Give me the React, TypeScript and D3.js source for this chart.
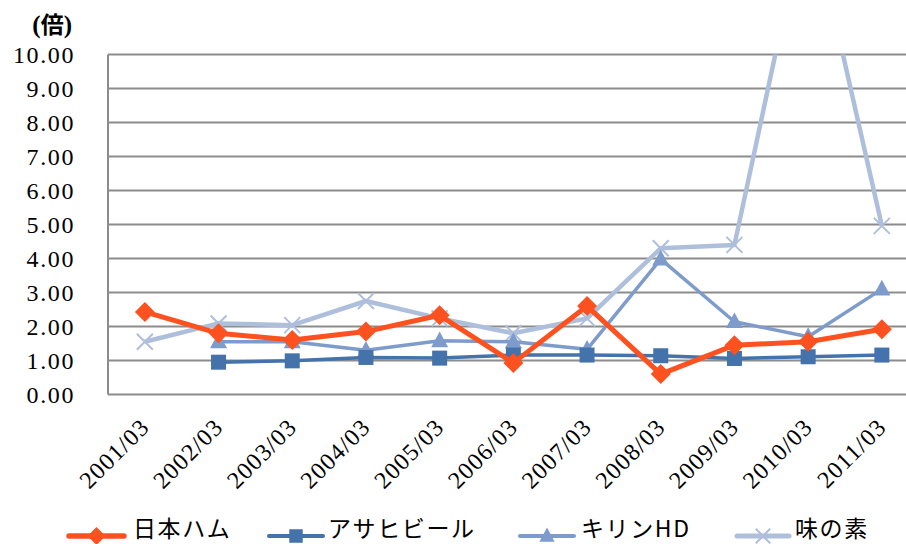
import React from "react";
import * as d3 from "d3";

const categories = ["2001/03","2002/03","2003/03","2004/03","2005/03","2006/03","2007/03","2008/03","2009/03","2010/03","2011/03"];
const nipponHam: (number|null)[] = [2.43, 1.80, 1.60, 1.85, 2.33, 0.93, 2.60, 0.60, 1.45, 1.55, 1.92];
const asahi: (number|null)[] = [null, 0.95, 0.99, 1.09, 1.07, 1.16, 1.16, 1.14, 1.06, 1.11, 1.16];
const kirin: (number|null)[] = [null, 1.55, 1.55, 1.30, 1.58, 1.55, 1.33, 3.98, 2.14, 1.70, 3.10];
const ajinomoto: (number|null)[] = [1.55, 2.09, 2.04, 2.75, 2.24, 1.80, 2.24, 4.30, 4.40, 14.5, 4.96];
const yTicks = [0,1,2,3,4,5,6,7,8,9,10];
const seriesNames = ["日本ハム","アサヒビール","キリンHD","味の素"];

const colors = ["#FE5120", "#4472AA", "#7D9BCB", "#AEBFDC"];
const widths = [5, 3.5, 3.5, 4.5];
const markers = ["diamond","square","triangle","x"];

const W = 906, H = 544;
const plotL = 108, plotT = 54.5, plotB = 394.5;
const band = 73.7;
const SERIF = "Liberation Serif, DejaVu Serif, serif";

export default function App() {
  const x = d3.scaleBand<string>().domain(categories).range([plotL, plotL + band * categories.length]);
  const cx = (c: string) => (x(c) as number) + x.bandwidth() / 2;
  const y = d3.scaleLinear().domain([0, 10]).range([plotB, plotT]);
  const allSeries = [nipponHam, asahi, kirin, ajinomoto];

  const line = d3.line<{c:string; v:number|null}>()
    .defined(d => d.v !== null)
    .x(d => cx(d.c))
    .y(d => y(d.v as number));

  const marker = (type: string, px: number, py: number, color: string, key: any, scale = 1) => {
    if (type === "diamond") {
      const s = 10 * scale;
      return <path key={key} d={`M${px},${py - s}L${px + s},${py}L${px},${py + s}L${px - s},${py}Z`} fill={color} />;
    }
    if (type === "square") {
      const s = 7.5 * scale;
      return <rect key={key} x={px - s} y={py - s} width={2 * s} height={2 * s} fill={color} />;
    }
    if (type === "triangle") {
      const s = 8.5 * scale;
      return <path key={key} d={`M${px},${py - s * 1.1}L${px + s},${py + s * 0.75}L${px - s},${py + s * 0.75}Z`} fill={color} />;
    }
    const s = 8 * scale;
    return <path key={key} d={`M${px - s},${py - s}L${px + s},${py + s}M${px - s},${py + s}L${px + s},${py - s}`} stroke={color} strokeWidth={2} fill="none" />;
  };

  const legendItems = [
    { lx1: 69, lx2: 124, tx: 133 },
    { lx1: 269, lx2: 323, tx: 328 },
    { lx1: 520, lx2: 574, tx: 581 },
    { lx1: 737, lx2: 789, tx: 795 },
  ];
  const legendY = 536;

  return (
    <svg width={W} height={H} style={{ position: "absolute", left: 0, top: 0, background: "#fff" }}>
      <defs>
        <clipPath id="plotClip">
          <rect x={plotL} y={plotT} width={W - plotL} height={plotB - plotT + 20} />
        </clipPath>
      </defs>
      <rect x={0} y={0} width={W} height={H} fill="#fff" />
      {yTicks.map(t => (
        <line key={t} x1={plotL} x2={W} y1={y(t)} y2={y(t)} stroke="#8C8C8C" strokeWidth={2} />
      ))}
      <line x1={plotL} x2={plotL} y1={plotT} y2={plotB} stroke="#8C8C8C" strokeWidth={2} />
      {yTicks.map(t => (
        <text key={t} x={75} y={y(t) + 8} textAnchor="end" style={{ fontFamily: SERIF, fontSize: 24, letterSpacing: 1.6 }} fill="#000">
          {t.toFixed(2)}
        </text>
      ))}
      <text x={72} y={33} textAnchor="end" style={{ fontFamily: SERIF, fontWeight: "bold", fontSize: 25 }} fill="#000">
        (<tspan style={{ fontFamily: "Noto Sans CJK JP", fontSize: 23 }}>倍</tspan>)
      </text>
      {categories.map(c => {
        const px = cx(c) + 6, py = plotB + 34;
        return (
          <text key={c} x={px} y={py} textAnchor="end" style={{ fontFamily: SERIF, fontSize: 24, letterSpacing: 1.2 }} fill="#000"
            transform={`rotate(-45 ${px} ${py})`}>
            {c}
          </text>
        );
      })}
      <g clipPath="url(#plotClip)">
        {[3, 2, 1, 0].map(si => {
          const data = categories.map((c, i) => ({ c, v: allSeries[si][i] }));
          return (
            <g key={si}>
              <path d={line(data) || ""} fill="none" stroke={colors[si]} strokeWidth={widths[si]} strokeLinejoin="round" />
              {data.filter(d => d.v !== null).map((d, i) => marker(markers[si], cx(d.c), y(d.v as number), colors[si], i))}
            </g>
          );
        })}
      </g>
      {legendItems.map((it, i) => (
        <g key={i}>
          <line x1={it.lx1} x2={it.lx2} y1={legendY} y2={legendY} stroke={colors[i]} strokeWidth={widths[i] + 0.5} strokeLinecap="round" />
          {marker(markers[i], (it.lx1 + it.lx2) / 2, legendY, colors[i], "m" + i, 0.9)}
          <text x={it.tx} y={537} style={{ fontFamily: "Noto Sans CJK JP", fontSize: 23, letterSpacing: 1.6 }} fill="#000">
            {seriesNames[i]}
          </text>
        </g>
      ))}
    </svg>
  );
}
